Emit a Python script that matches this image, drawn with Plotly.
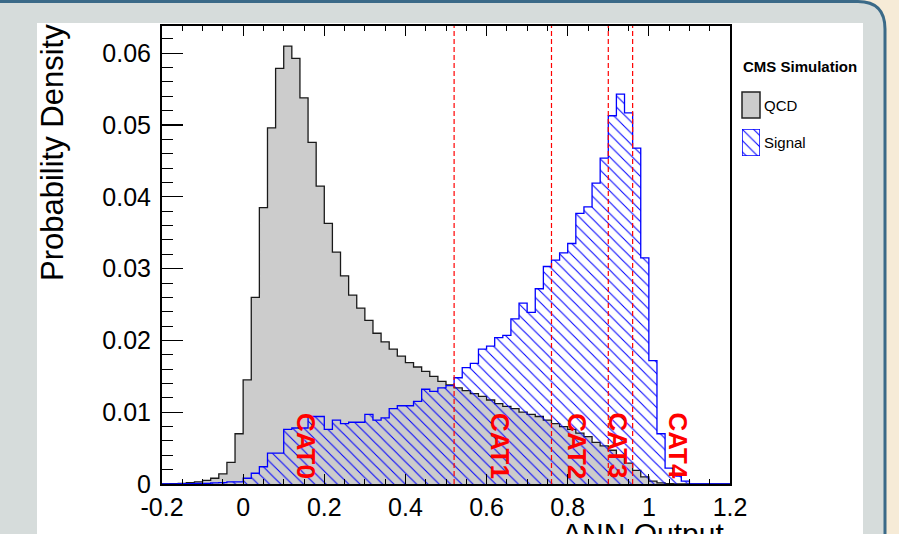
import numpy as np
import plotly.graph_objects as go

# ---------------- data ----------------
BIN_START = -0.2
BIN_WIDTH = 0.02

qcd = [0.00003, 0.00005, 0.0001, 0.0002, 0.0003, 0.0005, 0.0008, 0.0014, 0.0030, 0.0070,
       0.0145, 0.0260, 0.0385, 0.0496, 0.0579, 0.0610, 0.0593, 0.0538, 0.0476, 0.0415,
       0.0363, 0.0323, 0.0290, 0.0263, 0.0245, 0.0228, 0.0210, 0.0198, 0.0188, 0.0178,
       0.0169, 0.0163, 0.0157, 0.0150, 0.0143, 0.0138, 0.0134, 0.0130, 0.0126, 0.0122,
       0.0117, 0.0112, 0.0108, 0.0105, 0.0100, 0.0097, 0.0094, 0.0089, 0.0084, 0.0080,
       0.0076, 0.0071, 0.0066, 0.0058, 0.0053, 0.0047, 0.0038, 0.0029, 0.0019, 0.0010,
       0.0004, 0.00015, 0.00005, 0.00002, 0.00002, 0.0, 0.0, 0.0, 0.0, 0.0]

signal = [0.00002, 0.00003, 0.00005, 0.00005, 0.00008, 0.0001, 0.00015, 0.0002, 0.0003, 0.0003,
          0.0008, 0.0015, 0.0024, 0.0043, 0.0043, 0.0076, 0.0078, 0.0078, 0.0094, 0.0094,
          0.0076, 0.0089, 0.0084, 0.0086, 0.0086, 0.0097, 0.0089, 0.0092, 0.0105, 0.0109,
          0.0109, 0.0115, 0.0132, 0.0129, 0.0134, 0.0137, 0.0148, 0.0162, 0.0168, 0.0188,
          0.0192, 0.0204, 0.0207, 0.0230, 0.0252, 0.0239, 0.0272, 0.0303, 0.0312, 0.0322,
          0.0335, 0.0377, 0.0386, 0.0419, 0.0454, 0.0513, 0.0543, 0.0517, 0.0468, 0.0315,
          0.0172, 0.0070, 0.0022, 0.0011, 0.0004, 0.00003, 0.00003, 0.00003, 0.00003, 0.00003]

cut_positions = [0.52, 0.76, 0.90, 0.96]
cat_labels = ["CAT0", "CAT1", "CAT2", "CAT3", "CAT4"]
cat_label_x = [0.155, 0.633, 0.822, 0.925, 1.073]
cat_label_y = 0.0053

x_tick_vals = [-0.2, 0.0, 0.2, 0.4, 0.6, 0.8, 1.0, 1.2]
x_tick_text = ["-0.2", "0", "0.2", "0.4", "0.6", "0.8", "1", "1.2"]
y_tick_vals = [0.0, 0.01, 0.02, 0.03, 0.04, 0.05, 0.06]
y_tick_text = ["0", "0.01", "0.02", "0.03", "0.04", "0.05", "0.06"]

series_names = ["QCD", "Signal"]
x_title = "ANN Output"
y_title = "Probability Density"
legend_title = "CMS Simulation"

# ---------------- layout helpers ----------------
W, H = 899, 534
def PX(x):
    return x / W
def PY(y):
    return 1 - y / H

FONT = "Liberation Sans, Arial, Helvetica, sans-serif"
BLUE = "#0000ff"
RED = "#ff0000"

edges = BIN_START + BIN_WIDTH * np.arange(len(qcd) + 1)

fig = go.Figure()

fig.add_trace(go.Scatter(
    x=edges, y=list(qcd) + [qcd[-1]], mode="lines", line_shape="hv",
    line=dict(color="#1a1a1a", width=1.3), fill="tozeroy", fillcolor="#cccccc",
    name=series_names[0], showlegend=False, hoverinfo="skip"))

fig.add_trace(go.Scatter(
    x=edges, y=list(signal) + [signal[-1]], mode="lines", line_shape="hv",
    line=dict(color=BLUE, width=1.3), fill="tozeroy", fillcolor="rgba(0,0,0,0)",
    fillpattern=dict(shape="\\", fgcolor=BLUE, bgcolor="rgba(0,0,0,0)",
                     size=8, solidity=0.13, fillmode="replace"),
    name=series_names[1], showlegend=False, hoverinfo="skip"))

# legend swatch for the signal (mini axes)
fig.add_trace(go.Bar(
    x=[0], y=[1], width=[1], xaxis="x2", yaxis="y2",
    marker=dict(color="white", line=dict(color=BLUE, width=1.5),
                pattern=dict(shape="\\", fgcolor=BLUE, bgcolor="white",
                             size=8, solidity=0.13)),
    showlegend=False, hoverinfo="skip"))

shapes = []
# slide background with rounded corner
shapes.append(dict(
    type="path", xref="paper", yref="paper", layer="below",
    path=(f"M {PX(-10)},{PY(1.5)} L {PX(858)},{PY(1.5)} "
          f"Q {PX(885)},{PY(1.5)} {PX(885)},{PY(29)} "
          f"L {PX(885)},{PY(560)} L {PX(-10)},{PY(560)} Z"),
    fillcolor="#d6dcdb", line=dict(color="#3b6a88", width=3)))
# white pad
shapes.append(dict(type="rect", xref="paper", yref="paper", layer="below",
                   x0=PX(37), x1=PX(863), y0=PY(560), y1=PY(23),
                   fillcolor="white", line=dict(width=0)))
# QCD legend swatch
shapes.append(dict(type="rect", xref="paper", yref="paper",
                   x0=PX(742), x1=PX(760), y0=PY(118), y1=PY(92),
                   fillcolor="#cccccc", line=dict(color="#222222", width=1.5)))
# cut lines
for c in cut_positions:
    shapes.append(dict(type="line", xref="x", yref="paper", x0=c, x1=c,
                       y0=PY(484), y1=PY(26),
                       line=dict(color=RED, width=1.2, dash="5px,3px")))

annotations = []
for lab, lx in zip(cat_labels, cat_label_x):
    annotations.append(dict(x=lx, y=cat_label_y, xref="x", yref="y", text=lab,
                            showarrow=False, textangle=90, xanchor="center", yanchor="middle",
                            font=dict(family=FONT, size=26, color=RED, weight="bold")))

annotations.append(dict(x=PX(741), y=PY(67), xref="paper", yref="paper", text=legend_title,
                        showarrow=False, xanchor="left", yanchor="middle",
                        font=dict(family=FONT, size=15, color="black", weight="bold")))
annotations.append(dict(x=PX(762), y=PY(105), xref="paper", yref="paper", text=series_names[0],
                        showarrow=False, xanchor="left", yanchor="middle",
                        font=dict(family=FONT, size=15, color="black")))
annotations.append(dict(x=PX(762), y=PY(142), xref="paper", yref="paper", text=series_names[1],
                        showarrow=False, xanchor="left", yanchor="middle",
                        font=dict(family=FONT, size=15, color="black")))
annotations.append(dict(x=PX(53), y=PY(153), xref="paper", yref="paper", text=y_title,
                        showarrow=False, textangle=-90, xanchor="center", yanchor="middle",
                        font=dict(family=FONT, size=31, color="black")))
annotations.append(dict(x=PX(643), y=PY(533), xref="paper", yref="paper", text=x_title,
                        showarrow=False, xanchor="center", yanchor="middle",
                        font=dict(family=FONT, size=30, color="black")))

fig.update_layout(
    template="none",
    width=W, height=H,
    margin=dict(l=0, r=0, t=0, b=0),
    paper_bgcolor="#f6ebd7", plot_bgcolor="white",
    showlegend=False, hovermode=False,
    shapes=shapes, annotations=annotations,
    xaxis=dict(domain=[PX(162), PX(730)], range=[-0.2, 1.2], automargin=False,
               tickvals=x_tick_vals, ticktext=x_tick_text,
               ticks="inside", ticklen=10, tickwidth=1.2, tickcolor="black",
               minor=dict(ticks="inside", ticklen=5, dtick=0.05, tick0=0, tickcolor="black", tickwidth=1),
               showline=True, linecolor="black", linewidth=2, mirror="ticks",
               showgrid=False, zeroline=False, showspikes=False,
               tickfont=dict(family=FONT, size=25, color="black")),
    yaxis=dict(domain=[PY(484), PY(26)], range=[0, 0.0638], automargin=False,
               tickvals=y_tick_vals, ticktext=y_tick_text,
               ticks="inside", ticklen=21, tickwidth=1.2, tickcolor="black",
               minor=dict(ticks="inside", ticklen=11, dtick=0.002, tick0=0, tickcolor="black", tickwidth=1),
               showline=True, linecolor="black", linewidth=2, mirror=True,
               showgrid=False, zeroline=False, ticklabelstandoff=4, showspikes=False,
               tickfont=dict(family=FONT, size=25, color="black")),
    xaxis2=dict(domain=[PX(742), PX(760)], range=[-0.5, 0.5], anchor="y2",
                visible=False, fixedrange=True, automargin=False),
    yaxis2=dict(domain=[PY(156), PY(129)], range=[0, 1], anchor="x2",
                visible=False, fixedrange=True, automargin=False),
    bargap=0,
)

fig.write_html("out.html", config={"staticPlot": True, "displayModeBar": False},
               post_script="document.body.style.margin='0px';")
